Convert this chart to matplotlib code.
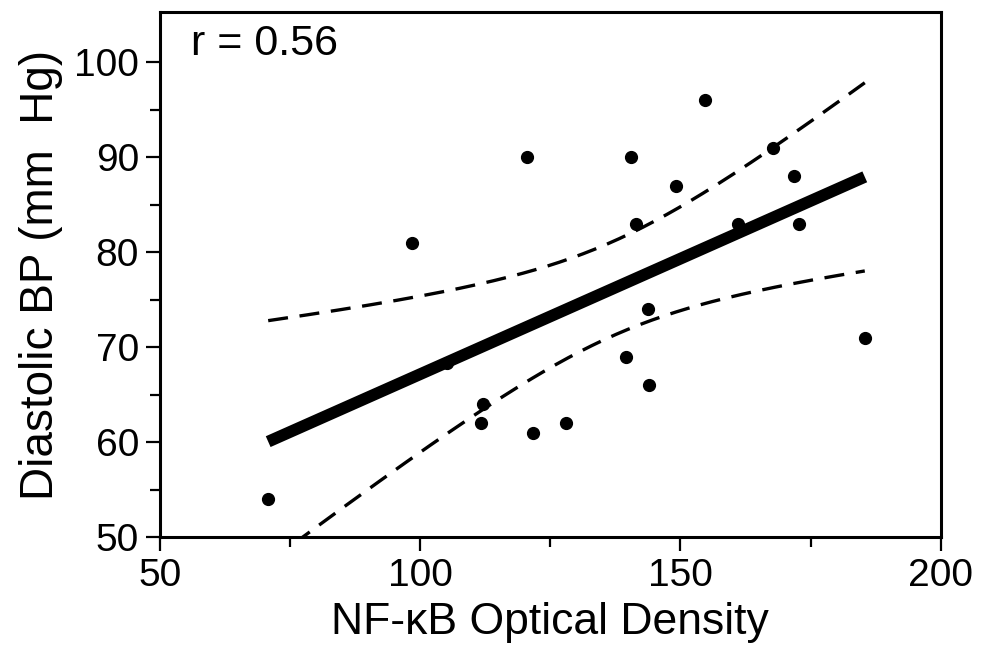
import numpy as np
import matplotlib
matplotlib.use("Agg")
import matplotlib.pyplot as plt

plt.rcParams['font.family'] = ['Liberation Sans', 'DejaVu Sans']

# NF-kB optical density vs diastolic BP
nfkb_od = [70.8, 98.5, 105.1, 111.6, 112.1, 120.6, 121.6, 128.1, 139.5, 140.5,
           141.5, 143.7, 143.9, 149.1, 154.8, 161.1, 167.7, 171.8, 172.7, 185.4]
diastolic_bp = [54, 81, 68.3, 62, 64, 90, 61, 62, 69, 90,
                83, 74, 66, 87, 96, 83, 91, 88, 83, 71]

x_ticks = [50, 100, 150, 200]
y_ticks = [50, 60, 70, 80, 90, 100]

x = np.array(nfkb_od)
y = np.array(diastolic_bp)
n = len(x)

# least squares fit and 95% confidence band of the mean
slope, intercept = np.polyfit(x, y, 1)
r = np.corrcoef(x, y)[0, 1]
resid = y - (slope * x + intercept)
s = np.sqrt(np.sum(resid ** 2) / (n - 2))
sxx = np.sum((x - x.mean()) ** 2)
t_crit = 2.101  # t(0.975, df=18)

xf = np.linspace(x.min(), x.max(), 200)
yf = slope * xf + intercept
half = t_crit * s * np.sqrt(1.0 / n + (xf - x.mean()) ** 2 / sxx)

fig = plt.figure(figsize=(9.81, 6.64), dpi=100)
ax = fig.add_axes([0.163, 0.191, 0.796, 0.791])

ax.plot(xf, yf, color='black', linewidth=8.5, solid_capstyle='butt', zorder=2)
ax.plot(xf, yf + half, color='black', linewidth=2.4, dashes=(6, 3.5), zorder=2)
ax.plot(xf, yf - half, color='black', linewidth=2.4, dashes=(6, 3.5), zorder=2)
ax.plot(x, y, 'o', color='black', markersize=8.5, zorder=3)

ax.text(0.04, 0.978, f'r = {r:.2f}', transform=ax.transAxes,
        fontsize=31, va='top', ha='left')

ax.set_xlim(50, 200)
ax.set_ylim(50, 105.3)
ax.set_xticks(x_ticks)
ax.set_yticks(y_ticks)
ax.set_xticks([75, 125, 175], minor=True)
ax.set_yticks([55, 65, 75, 85, 95], minor=True)

ax.tick_params(which='both', direction='out', width=1.6, labelsize=28,
               top=False, right=False)
ax.tick_params(which='major', length=10, pad=5)
ax.tick_params(which='minor', length=7)

for sp in ax.spines.values():
    sp.set_linewidth(2.2)

ax.set_xlabel('NF-\u03baB Optical Density', fontsize=32, labelpad=6)
ax.set_ylabel('Diastolic BP (mm  Hg)', fontsize=33, labelpad=8)

fig.savefig('out.png', dpi=100)
